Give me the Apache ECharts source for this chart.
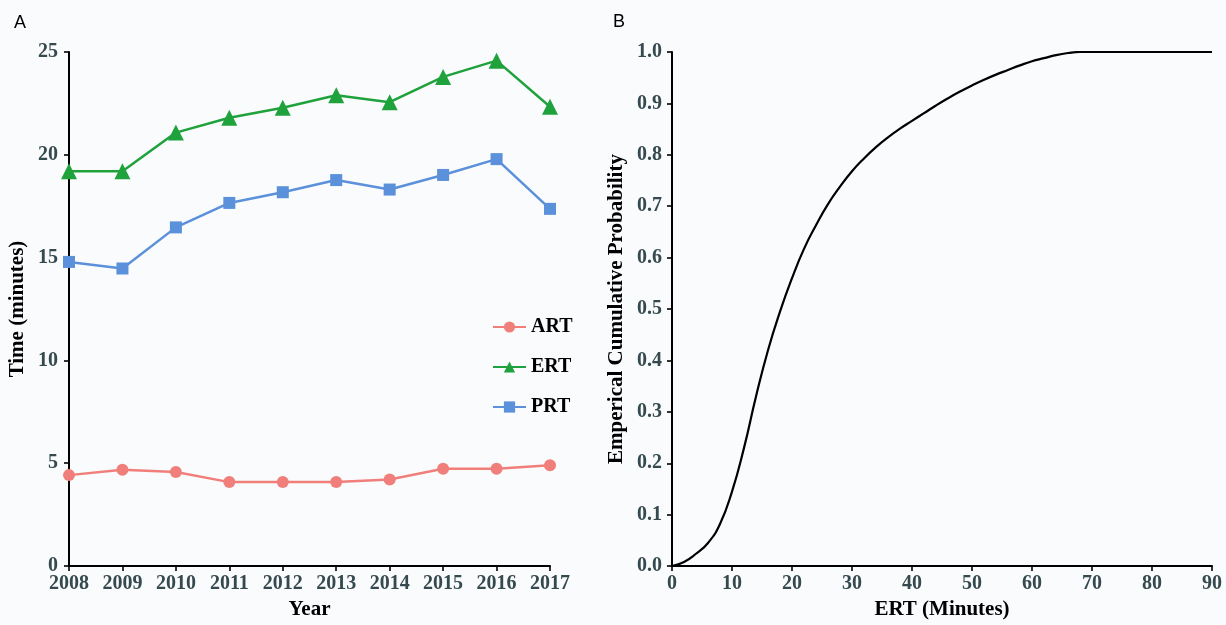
<!DOCTYPE html>
<html>
<head>
<meta charset="utf-8">
<script src="https://cdn.jsdelivr.net/npm/echarts@6/dist/echarts.min.js"></script>
<style>
html,body{margin:0;padding:0;background:#fafbfd;}
#main{width:1226px;height:625px;}
</style>
</head>
<body>
<div id="main"></div>
<script>
// ---- Data ----
var years = ['2008','2009','2010','2011','2012','2013','2014','2015','2016','2017'];
var artValues = [4.42, 4.68, 4.57, 4.08, 4.08, 4.08, 4.21, 4.73, 4.73, 4.90];
var ertValues = [19.2, 19.2, 21.08, 21.8, 22.29, 22.9, 22.56, 23.79, 24.58, 22.34];
var prtValues = [14.79, 14.47, 16.47, 17.66, 18.18, 18.77, 18.31, 19.02, 19.79, 17.37];

var ecdfMinutes = [0, 2, 4, 6, 8, 10, 12, 14, 16, 18, 20, 22, 24, 26, 28, 30, 32, 34, 36, 38, 40, 42, 44, 46, 48, 50, 52, 54, 56, 58, 60, 62, 64, 66, 68, 70, 80, 90];
var ecdfProb    = [0, 0.008, 0.024, 0.045, 0.082, 0.145, 0.23, 0.33, 0.42, 0.495, 0.56, 0.617, 0.663, 0.704, 0.738, 0.768, 0.793, 0.815, 0.834, 0.851, 0.866, 0.881, 0.896, 0.910, 0.923, 0.935, 0.946, 0.956, 0.965, 0.974, 0.982, 0.988, 0.994, 0.998, 1.0, 1.0, 1.0, 1.0];

var leftYTicks = [0, 5, 10, 15, 20, 25];

// ---- Chart ----
var chart = echarts.init(document.getElementById('main'), null, {renderer: 'canvas'});
var serif = 'Liberation Serif';
var tickColor = '#354a4e';
var axisLineStyle = {color: '#000', width: 2};
var tickStyle = {show: true, length: 5, lineStyle: {color: '#000', width: 1.6}};
var tickLabel = {fontFamily: serif, fontWeight: 'bold', fontSize: 20, color: tickColor};
var nameStyle = {fontFamily: serif, fontWeight: 'bold', fontSize: 21, color: '#000'};

var ecdfData = ecdfMinutes.map(function (m, i) { return [m, ecdfProb[i]]; });

var option = {
  backgroundColor: '#fafbfd',
  animation: false,
  graphic: [
    {type: 'text', left: 14, top: 14, style: {text: 'A', font: '18px "Liberation Sans"', fill: '#000'}},
    {type: 'text', left: 613, top: 13, style: {text: 'B', font: '18px "Liberation Sans"', fill: '#000'}}
  ],
  legend: {
    orient: 'vertical',
    left: 487,
    top: 312,
    itemWidth: 33,
    itemHeight: 14,
    itemGap: 20,
    textStyle: {fontFamily: serif, fontWeight: 'bold', fontSize: 20, lineHeight: 20, color: '#000'},
    data: ['ART', 'ERT', 'PRT']
  },
  grid: [
    {left: 69, right: 676, top: 52, bottom: 57},
    {left: 672, right: 14, top: 52, bottom: 57}
  ],
  xAxis: [
    {
      gridIndex: 0, type: 'category', data: years, boundaryGap: false,
      name: 'Year', nameLocation: 'middle', nameGap: 33, nameTextStyle: nameStyle,
      axisLine: {lineStyle: axisLineStyle},
      axisTick: tickStyle,
      axisLabel: Object.assign({margin: 8}, tickLabel),
      splitLine: {show: false}
    },
    {
      gridIndex: 1, type: 'value', min: 0, max: 90, interval: 10,
      name: 'ERT (Minutes)', nameLocation: 'middle', nameGap: 32, nameTextStyle: nameStyle,
      axisLine: {onZero: false, lineStyle: axisLineStyle},
      axisTick: tickStyle,
      axisLabel: Object.assign({margin: 8}, tickLabel),
      splitLine: {show: false}
    }
  ],
  yAxis: [
    {
      gridIndex: 0, type: 'value', min: leftYTicks[0], max: leftYTicks[leftYTicks.length - 1], interval: 5,
      name: 'Time (minutes)', nameLocation: 'middle', nameGap: 41, nameRotate: 90, nameTextStyle: nameStyle,
      axisLine: {show: true, onZero: false, lineStyle: axisLineStyle},
      axisTick: tickStyle,
      axisLabel: Object.assign({margin: 11}, tickLabel),
      splitLine: {show: false}
    },
    {
      gridIndex: 1, type: 'value', min: 0, max: 1, interval: 0.1,
      name: 'Emperical Cumulative Probability', nameLocation: 'middle', nameGap: 45, nameRotate: 90, nameTextStyle: nameStyle,
      axisLine: {show: true, onZero: false, lineStyle: axisLineStyle},
      axisTick: tickStyle,
      axisLabel: Object.assign({margin: 10, formatter: function (v) { return v.toFixed(1); }}, tickLabel),
      splitLine: {show: false}
    }
  ],
  series: [
    {
      name: 'ART', type: 'line', xAxisIndex: 0, yAxisIndex: 0, data: artValues,
      symbol: 'circle', symbolSize: 12,
      lineStyle: {color: '#f07f7b', width: 2.5},
      itemStyle: {color: '#f07f7b'}
    },
    {
      name: 'ERT', type: 'line', xAxisIndex: 0, yAxisIndex: 0, data: ertValues,
      symbol: 'triangle', symbolSize: 16,
      lineStyle: {color: '#1fa23c', width: 2.5},
      itemStyle: {color: '#1fa23c'}
    },
    {
      name: 'PRT', type: 'line', xAxisIndex: 0, yAxisIndex: 0, data: prtValues,
      symbol: 'rect', symbolSize: 12,
      lineStyle: {color: '#5b90da', width: 2.5},
      itemStyle: {color: '#5b90da'}
    },
    {
      name: 'ECDF', type: 'line', xAxisIndex: 1, yAxisIndex: 1, data: ecdfData,
      showSymbol: false, smooth: 0.5,
      lineStyle: {color: '#000', width: 2.2}
    }
  ]
};
chart.setOption(option);
</script>
</body>
</html>
